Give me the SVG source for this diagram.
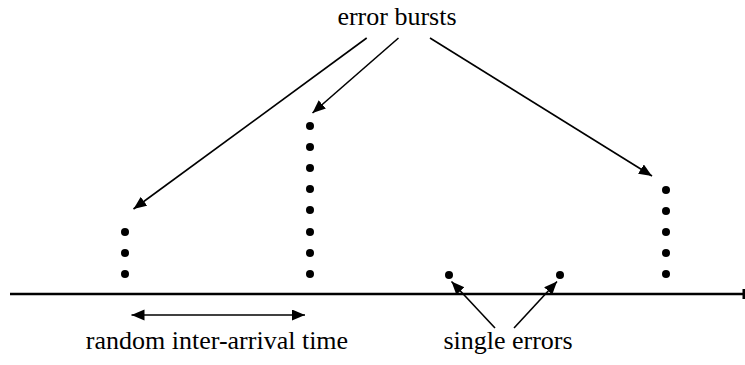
<svg xmlns="http://www.w3.org/2000/svg" width="745" height="365" viewBox="0 0 745 365">
  <style>
    .lbl { font-size: 26px; fill: #000; text-anchor: middle; }
    .dot { fill: #000; }
    .conn { stroke: #000; stroke-width: 1.6; fill: none; }
    .axis { stroke: #000; stroke-width: 2.6; fill: none; }
  </style>
  <defs>
    <marker id="head" markerUnits="userSpaceOnUse" markerWidth="14" markerHeight="12" refX="13" refY="5.5" orient="auto-start-reverse">
      <path d="M0,0 L13,5.5 L0,11 Z" fill="#000"/>
    </marker>
  </defs>

  <rect width="745" height="365" fill="#fff"/>

  <!-- time axis -->
  <g id="axis">
    <line class="axis" x1="10" y1="294" x2="744" y2="294"/>
    <rect x="742.5" y="289" width="2.5" height="10" fill="#000"/>
  </g>

  <!-- burst of 3 errors -->
  <g id="burst1">
    <circle class="dot" cx="125" cy="232" r="4"/>
    <circle class="dot" cx="125" cy="253" r="4"/>
    <circle class="dot" cx="125" cy="274" r="4"/>
  </g>

  <!-- burst of 8 errors -->
  <g id="burst2">
    <circle class="dot" cx="310" cy="126" r="4"/>
    <circle class="dot" cx="310" cy="147" r="4"/>
    <circle class="dot" cx="310" cy="168" r="4"/>
    <circle class="dot" cx="310" cy="189" r="4"/>
    <circle class="dot" cx="310" cy="210" r="4"/>
    <circle class="dot" cx="310" cy="232" r="4"/>
    <circle class="dot" cx="310" cy="253" r="4"/>
    <circle class="dot" cx="310" cy="274" r="4"/>
  </g>

  <!-- burst of 5 errors -->
  <g id="burst3">
    <circle class="dot" cx="666" cy="190" r="4"/>
    <circle class="dot" cx="666" cy="211" r="4"/>
    <circle class="dot" cx="666" cy="232" r="4"/>
    <circle class="dot" cx="666" cy="253" r="4"/>
    <circle class="dot" cx="666" cy="274" r="4"/>
  </g>

  <!-- isolated errors -->
  <g id="single1"><circle class="dot" cx="449" cy="275" r="4"/></g>
  <g id="single2"><circle class="dot" cx="560" cy="275" r="4"/></g>

  <!-- labels -->
  <g id="label-bursts"><text class="lbl" font-family="'Liberation Serif', serif" x="397" y="25">error bursts</text></g>
  <g id="label-interarrival"><text class="lbl" font-family="'Liberation Serif', serif" x="217" y="349">random inter-arrival time</text></g>
  <g id="label-single"><text class="lbl" font-family="'Liberation Serif', serif" x="508" y="349">single errors</text></g>

  <!-- connectors -->
  <g id="connectors">
    <line class="conn" x1="366.7" y1="38" x2="133.5" y2="209" marker-end="url(#head)"/>
    <line class="conn" x1="398.5" y1="38" x2="312.5" y2="113" marker-end="url(#head)"/>
    <line class="conn" x1="430" y1="38" x2="652" y2="176" marker-end="url(#head)"/>
    <line class="conn" x1="495" y1="328" x2="451.5" y2="281.5" marker-end="url(#head)"/>
    <line class="conn" x1="514" y1="328" x2="557" y2="281.5" marker-end="url(#head)"/>
    <line class="conn" x1="131.5" y1="315" x2="305" y2="315" marker-start="url(#head)" marker-end="url(#head)"/>
  </g>
</svg>
